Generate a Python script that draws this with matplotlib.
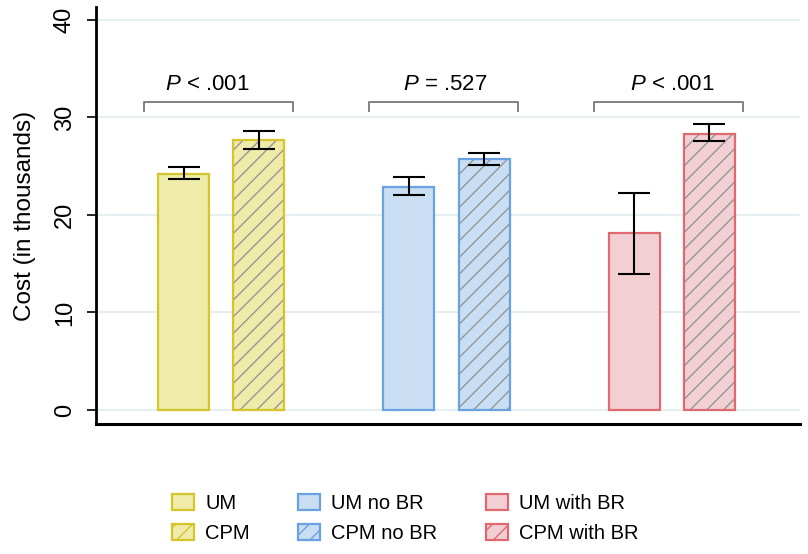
import numpy as np
import matplotlib
matplotlib.use("Agg")
import matplotlib.pyplot as plt
from matplotlib.patches import Patch

plt.rcParams['font.family'] = ['Liberation Sans', 'DejaVu Sans']
plt.rcParams['mathtext.fontset'] = 'custom'
plt.rcParams['mathtext.rm'] = 'Liberation Sans'
plt.rcParams['mathtext.it'] = 'Liberation Sans:italic'
plt.rcParams['hatch.linewidth'] = 1.0

# data
labels = ['UM', 'CPM', 'UM no BR', 'CPM no BR', 'UM with BR', 'CPM with BR']
means = [24.2, 27.7, 22.9, 25.7, 18.1, 28.3]
err_low = [23.7, 26.8, 22.0, 25.1, 13.9, 27.6]
err_high = [24.9, 28.6, 23.9, 26.4, 22.3, 29.3]
p_labels = ['$P$ < .001', '$P$ = .527', '$P$ < .001']
p_text_x = [0.31, 3.48, 6.51]

# styles
fills = ['#efeba9', '#efeba9', '#c9def3', '#c9def3', '#f1cfd2', '#f1cfd2']
edges = ['#d6c52a', '#d6c52a', '#6aa2e0', '#6aa2e0', '#e06870', '#e06870']
hatches = ['', '//', '', '//', '', '//']
positions = [0, 1, 3, 4, 6, 7]
width = 0.68

fig = plt.figure(figsize=(8.08, 5.54), dpi=100)
ax = fig.add_axes([96/808, 1 - 424/554, 704/808, 417/554])

for i in range(len(labels)):
    # fill with grey hatch
    ax.bar(positions[i], means[i], width=width, color=fills[i],
           edgecolor='#969696' if hatches[i] else fills[i], linewidth=0,
           hatch=hatches[i], zorder=2)
    # coloured outline
    ax.bar(positions[i], means[i], width=width, fill=False,
           edgecolor=edges[i], linewidth=1.6, zorder=3)

yerr = [np.array(means) - np.array(err_low), np.array(err_high) - np.array(means)]
ax.errorbar(positions, means, yerr=yerr, fmt='none', ecolor='black',
            elinewidth=1.5, capsize=11.5, capthick=1.5, zorder=4)

# significance brackets
for g in range(3):
    x0 = positions[2 * g] - 0.53
    x1 = positions[2 * g] + 1.45
    ax.plot([x0, x0, x1, x1], [30.7, 31.6, 31.6, 30.7], color='#777777',
            lw=1.3, zorder=3)
    ax.text(p_text_x[g], 33.4, p_labels[g], ha='center', va='center',
            fontsize=16)

ax.set_xlim(-1.17, 8.21)
ax.set_ylim(-1.44, 41.33)
ax.set_yticks([0, 10, 20, 30, 40])
ax.set_xticks([])
ax.yaxis.grid(True, color='#e5eef0', lw=1.5, zorder=0)
ax.set_axisbelow(True)
for s in ['top', 'right']:
    ax.spines[s].set_visible(False)
ax.spines['left'].set_linewidth(2)
ax.spines['bottom'].set_linewidth(2.2)
ax.tick_params(axis='y', length=6.5, width=1.2, pad=8, labelsize=17,
               labelrotation=90)
for t in ax.get_yticklabels():
    t.set_va('center')
ax.set_ylabel('Cost (in thousands)', fontsize=17.5, labelpad=13)

handles = []
for i in range(len(labels)):
    handles.append(Patch(facecolor=fills[i], edgecolor=edges[i], linewidth=1.6,
                         hatch=hatches[i], label=labels[i]))
fig.legend(handles=handles, ncol=3, loc='upper left',
           bbox_to_anchor=(162/808, 1 - 484/554), frameon=False,
           fontsize=14.5, handlelength=1.1, handleheight=0.8,
           handletextpad=0.55, columnspacing=2.4, labelspacing=0.55,
           borderpad=0)

fig.savefig('out.png', dpi=100)
